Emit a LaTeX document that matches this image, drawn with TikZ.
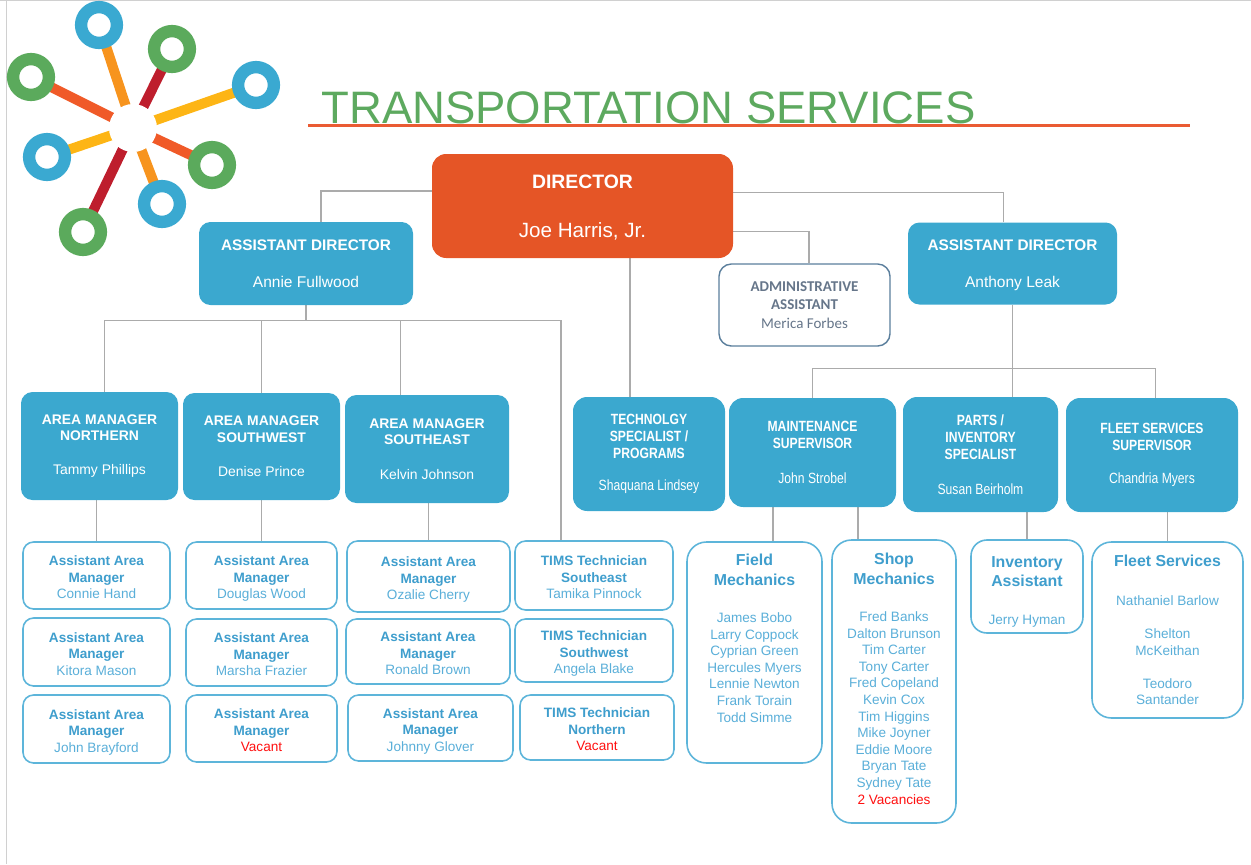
\documentclass[tikz,border=0pt]{standalone}
\usepackage{fontspec}
\setmainfont{Liberation Sans}
\newfontfamily\narrowfont{Liberation Sans}[FakeStretch=0.82]
\newfontfamily\calfont{Carlito}
\usetikzlibrary{backgrounds}

\definecolor{dirorange}{HTML}{E55526}
\definecolor{headblue}{HTML}{3BA8CF}
\definecolor{staffline}{HTML}{5DB5DA}
\definecolor{staffhead}{HTML}{3F9ECD}
\definecolor{staffname}{HTML}{5AAFD9}
\definecolor{adminline}{HTML}{5A7E9C}
\definecolor{admintext}{HTML}{66768A}
\definecolor{linkgray}{HTML}{ABABAB}
\definecolor{titlegreen}{HTML}{5DA95F}
\definecolor{rulered}{HTML}{EA5B33}
\definecolor{vacantred}{HTML}{FF1010}
\definecolor{framegray}{HTML}{D0D0D0}
\definecolor{logoblue}{HTML}{3AA9D1}
\definecolor{logogreen}{HTML}{5BAA5C}
\definecolor{logoorange}{HTML}{F7941E}
\definecolor{logored}{HTML}{BE1E2D}
\definecolor{logoflame}{HTML}{F05A28}
\definecolor{logoyellow}{HTML}{FDB515}

\newcommand{\role}[1]{{\bfseries\color{staffhead}#1}}
\newcommand{\crew}[1]{{\fontsize{9}{11}\selectfont\bfseries\color{staffhead}#1}}
\newcommand{\vacant}[1]{{\color{vacantred}#1}}

\tikzset{
  link/.style={draw=linkgray, line width=0.7pt},
  sz/.style 2 args={minimum width=#1*0.567pt, minimum height=#2*0.567pt},
  dirbox/.style={fill=dirorange, text=white, rounded corners=8pt, align=center, inner sep=0pt},
  headbox/.style={fill=headblue, text=white, rounded corners=6.5pt, align=center, inner sep=0pt,
    font=\bfseries\fontsize{7.9}{9.4}\selectfont},
  narrowbox/.style={headbox, rounded corners=8pt, font=\narrowfont\bfseries\fontsize{8.4}{9.6}\selectfont},
  adminbox/.style={draw=adminline, line width=0.8pt, fill=white, text=admintext, rounded corners=7pt,
    align=center, inner sep=0pt, font=\calfont\fontsize{8.5}{10.5}\selectfont},
  staffbox/.style={draw=staffline, line width=0.9pt, fill=white, text=staffname, rounded corners=6pt,
    align=center, inner sep=0pt, text height=26.5pt, text depth=0pt, font=\fontsize{7.7}{9.4}\selectfont},
  crewbox/.style={draw=staffline, line width=0.9pt, fill=white, text=staffname, rounded corners=11pt,
    align=center, inner sep=0pt, font=\fontsize{7.7}{9.4}\selectfont},
  ring/.style={draw=#1, line width=7pt, fill=white},
  spoke/.style={draw=#1, line width=5.7pt},
}

\begin{document}
\begin{tikzpicture}[x=0.567pt, y=-0.567pt]
    \useasboundingbox (0,0) rectangle (1251,864);

    % Frame
    \draw[framegray, line width=0.85pt] (0,0.7) -- (1251,0.7);
    \draw[framegray, line width=0.85pt] (6.5,0) -- (6.5,864);

    % Logo
    \foreach \x/\y/\col in {99/25/logoorange, 172/49/logored, 31/77/logoflame, 256/85/logoyellow,
                            47/157/logoyellow, 212/165/logoflame, 162/204/logoorange, 83/232/logored}
        \draw[spoke=\col] (133,128) -- (\x,\y);
    \fill[white] (133,128) circle[radius=13.6pt];
    \foreach \x/\y/\col in {99/25/logoblue, 172/49/logogreen, 31/77/logogreen, 256/85/logoblue,
                            47/157/logoblue, 212/165/logogreen, 162/204/logoblue, 83/232/logogreen}
        \draw[ring=\col] (\x,\y) circle[radius=10.15pt];

    % Title
    \node[anchor=base west, inner sep=0pt, text=titlegreen, font=\fontsize{25.8}{30}\selectfont]
        (title) at (321,123) {TRANSPORTATION SERVICES};
    \draw[rulered, line width=1.5pt] (308,125.7) -- (1190,125.7);

    % Vertices
    \node[dirbox, sz={301}{104}, text depth=0pt, font=\fontsize{11}{13}\selectfont] (dir) at (582.5,206)
        {\bfseries DIRECTOR\\[15pt]\fontsize{11.7}{13}\selectfont Joe Harris, Jr.};
    \node[headbox, sz={214}{83}, text depth=0pt, font=\bfseries\fontsize{8.7}{10.5}\selectfont] (adl) at (306,263.5)
        {ASSISTANT DIRECTOR\\[10.5pt]\mdseries\fontsize{8.8}{10.5}\selectfont Annie Fullwood};
    \node[headbox, sz={209}{82}, text depth=0pt, font=\bfseries\fontsize{8.7}{10.5}\selectfont] (adr) at (1012.5,263.5)
        {ASSISTANT DIRECTOR\\[10.5pt]\mdseries\fontsize{8.8}{10.5}\selectfont Anthony Leak};
    \node[adminbox, sz={171}{82}] (admin) at (804.5,305)
        {\bfseries ADMINISTRATIVE\\\bfseries ASSISTANT\\Merica Forbes};

    \node[headbox, sz={157}{108}] (amn) at (99.5,446)
        {AREA MANAGER\\NORTHERN\\[10pt]\mdseries Tammy Phillips};
    \node[headbox, sz={157}{107}] (amsw) at (261.5,446.5)
        {AREA MANAGER\\SOUTHWEST\\[10pt]\mdseries Denise Prince};
    \node[headbox, sz={164}{108}] (amse) at (427,449)
        {AREA MANAGER\\SOUTHEAST\\[10pt]\mdseries Kelvin Johnson};
    \node[narrowbox, sz={152}{114}] (tech) at (649,454)
        {TECHNOLGY\\SPECIALIST /\\PROGRAMS\\[9pt]\mdseries Shaquana Lindsey};
    \node[narrowbox, sz={167}{109}] (maint) at (812.5,452.5)
        {MAINTENANCE\\SUPERVISOR\\[10.5pt]\mdseries John Strobel};
    \node[narrowbox, sz={155}{115}] (parts) at (980.5,454.5)
        {PARTS /\\INVENTORY\\SPECIALIST\\[10.5pt]\mdseries Susan Beirholm};
    \node[narrowbox, sz={172}{114}] (fsup) at (1152,455)
        {FLEET SERVICES\\SUPERVISOR\\[9.5pt]\mdseries Chandria Myers};

    \node[staffbox, sz={147}{67}] (aam1) at (96.5,575.5) {\role{Assistant Area}\\\role{Manager}\\Connie Hand};
    \node[staffbox, sz={147}{68}] (aam2) at (96.5,652) {\role{Assistant Area}\\\role{Manager}\\Kitora Mason};
    \node[staffbox, sz={147}{68}] (aam3) at (96.5,729) {\role{Assistant Area}\\\role{Manager}\\John Brayford};
    \node[staffbox, sz={151}{67}] (aam4) at (261.5,575.5) {\role{Assistant Area}\\\role{Manager}\\Douglas Wood};
    \node[staffbox, sz={151}{67}] (aam5) at (261.5,652.5) {\role{Assistant Area}\\\role{Manager}\\Marsha Frazier};
    \node[staffbox, sz={151}{67}] (aam6) at (261.5,728.5) {\role{Assistant Area}\\\role{Manager}\\\vacant{Vacant}};
    \node[staffbox, sz={163}{71}] (aam7) at (428.5,576.5) {\role{Assistant Area}\\\role{Manager}\\Ozalie Cherry};
    \node[staffbox, sz={164}{65}] (aam8) at (428,651.5) {\role{Assistant Area}\\\role{Manager}\\Ronald Brown};
    \node[staffbox, sz={165}{66}] (aam9) at (430.5,728) {\role{Assistant Area}\\\role{Manager}\\Johnny Glover};
    \node[staffbox, sz={158}{69}] (tims1) at (594,575.5) {\role{TIMS Technician}\\\role{Southeast}\\Tamika Pinnock};
    \node[staffbox, sz={158}{63}] (tims2) at (594,650.5) {\role{TIMS Technician}\\\role{Southwest}\\Angela Blake};
    \node[staffbox, sz={154}{65}] (tims3) at (597,727.5) {\role{TIMS Technician}\\\role{Northern}\\\vacant{Vacant}};

    \node[crewbox, sz={135}{221}, text depth=16.4pt] (field) at (754.5,652.5)
        {\crew{Field}\\[2pt]\crew{Mechanics}\\[11.6pt]James Bobo\\Larry Coppock\\Cyprian Green\\
         Hercules Myers\\Lennie Newton\\Frank Torain\\Todd Simme};
    \node[crewbox, sz={124}{283}, text depth=3.4pt] (shop) at (894,681.5)
        {\crew{Shop}\\[2pt]\crew{Mechanics}\\[11.6pt]Fred Banks\\Dalton Brunson\\Tim Carter\\Tony Carter\\
         Fred Copeland\\Kevin Cox\\Tim Higgins\\Mike Joyner\\Eddie Moore\\Bryan Tate\\Sydney Tate\\
         \vacant{2 Vacancies}};
    \node[crewbox, sz={112}{93}, rounded corners=9pt, text height=42.6pt, text depth=0pt] (inv) at (1027,586.5)
        {\crew{Inventory}\\[1.4pt]\crew{Assistant}\\[12pt]Jerry Hyman};
    \node[crewbox, sz={151}{176}] (fleet) at (1167.5,630)
        {\crew{Fleet Services}\\[12.6pt]Nathaniel Barlow\\[9.3pt]Shelton\\McKeithan\\[9.3pt]Teodoro\\Santander};

    % Edges
    \begin{scope}[on background layer]
        \draw[link] ([yshift=8.5pt]dir.west) -| ([xshift=8.5pt]adl.north);
        \draw[link] ([yshift=7.5pt]dir.east) -| ([xshift=-5pt]adr.north);
        \draw[link] ([yshift=-14.5pt]dir.east) -| ([xshift=2.5pt]admin.north);
        \draw[link] ([xshift=-10.8pt]tech.north) |- (dir.center);

        \draw[link] (adl.south) -- ++(0,15) coordinate (busl);
        \draw[link] (busl) -| ([xshift=3pt]amn.north);
        \draw[link] (busl) -| (amsw.north);
        \draw[link] (busl) -| ([xshift=-15pt]amse.north);
        \draw[link] (busl) -| ([xshift=-18.7pt]tims1.north);

        \draw[link] (adr.south) -- ++(0,64) coordinate (busr);
        \draw[link] (busr) -| (maint.north);
        \draw[link] (busr) -- (busr |- parts.north);
        \draw[link] (busr) -| ([xshift=2pt]fsup.north);

        \draw[link] (aam1.north) |- (amn.center);
        \draw[link] (aam4.north) |- (amsw.center);
        \draw[link] (aam7.north) |- (amse.center);
        \draw[link] ([xshift=10.5pt]field.north) |- (maint.center);
        \draw[link] ([xshift=-20.4pt]shop.north) |- (maint.center);
        \draw[link] (inv.north) |- (parts.center);
        \draw[link] (fleet.north) |- (fsup.center);
    \end{scope}
\end{tikzpicture}
\end{document}
